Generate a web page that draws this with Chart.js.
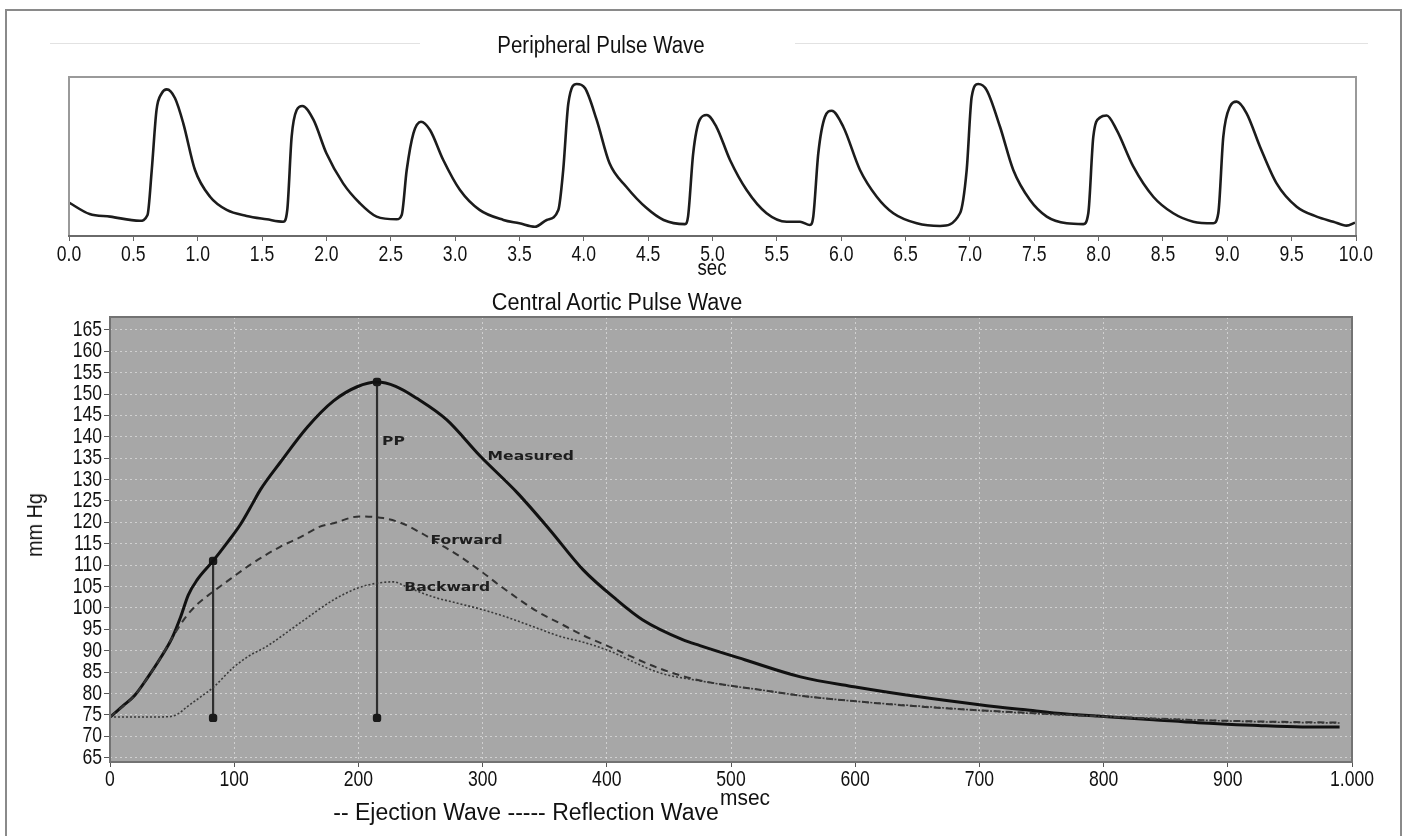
<!DOCTYPE html>
<html><head><meta charset="utf-8">
<script src="https://cdn.jsdelivr.net/npm/chart.js@4.4.1/dist/chart.umd.min.js"></script>
<style>
html,body{margin:0;padding:0;background:#fff;width:1408px;height:836px;overflow:hidden;}
#wrap{position:relative;width:1408px;height:836px;font-family:"Liberation Sans Narrow","Liberation Sans",Arial,sans-serif;color:#111;}
.frame{position:absolute;left:5px;top:9px;width:1397px;height:900px;border:2px solid #8a8a8a;box-sizing:border-box;}
.txt{position:absolute;white-space:nowrap;line-height:1;}
canvas{position:absolute;left:0;}
.deco{position:absolute;height:1px;background:#e2e2e2;}
</style></head>
<body><div id="wrap">
<div class="frame"></div>
<div class="deco" style="left:50px;top:43px;width:370px"></div>
<div class="deco" style="left:795px;top:43px;width:573px"></div>
<canvas id="top" width="1408" height="290" style="top:0"></canvas>
<canvas id="bot" width="1408" height="556" style="top:280px"></canvas>
<div class="txt" style="left:601px;top:45px;font-size:23px;transform:translate(-50%,-50%) scaleX(0.89)">Peripheral Pulse Wave</div>
<div class="txt" style="left:712px;top:268px;font-size:22px;transform:translate(-50%,-50%) scaleX(0.85)">sec</div>
<div class="txt" style="left:617px;top:302px;font-size:23px;transform:translate(-50%,-50%) scaleX(0.94)">Central Aortic Pulse Wave</div>
<div class="txt" style="left:35px;top:525px;font-size:22px;transform:translate(-50%,-50%) rotate(-90deg) scaleX(0.9)">mm Hg</div>
<div class="txt" style="left:745px;top:798px;font-size:22px;transform:translate(-50%,-50%) scaleX(0.95)">msec</div>
<div class="txt" style="left:526px;top:812px;font-size:23px;transform:translate(-50%,-50%)">-- Ejection Wave ----- Reflection Wave</div>
</div>
<script>
// ---------- Peripheral pulse wave (top) ----------
const periTime = [0.00,0.16,0.32,0.55,0.61,0.643,0.68,0.72,0.76,0.824,0.888,0.979,1.096,1.225,1.38,1.536,1.665,1.696,1.73,1.769,1.813,1.9,2.0,2.13,2.26,2.39,2.546,2.585,2.624,2.676,2.735,2.805,2.908,3.038,3.19,3.375,3.5,3.62,3.712,3.802,3.84,3.88,3.945,4.01,4.1,4.2,4.33,4.49,4.62,4.786,4.81,4.85,4.9,4.955,5.03,5.136,5.265,5.42,5.576,5.68,5.757,5.783,5.822,5.874,5.926,6.016,6.146,6.276,6.405,6.587,6.768,6.923,6.975,7.014,7.065,7.13,7.234,7.337,7.467,7.597,7.752,7.881,7.92,7.959,8.011,8.063,8.14,8.27,8.425,8.58,8.736,8.891,8.93,8.969,9.02,9.072,9.15,9.254,9.383,9.539,9.694,9.824,9.927,9.992];
const periValue = [21,13.8,12.2,9.6,13.2,41.5,79.2,89.7,92.2,86.6,70.9,41.5,24.7,16.4,12.6,10.5,9,16.4,62.5,79.2,81.8,73,52,33.1,20.6,12.2,10.5,13.2,41.5,64.6,71.9,66.7,47.8,28.9,16.4,10.1,8,5.8,10.1,16.4,41.5,83.5,95.6,92.9,73,45.7,31,17.4,10.1,7.5,12.2,52,73,76.1,68.7,47.8,28.9,14.3,9,9,6.9,12.2,52,75,78.8,68.7,41.5,24.7,14.3,8,6.3,14.3,41.5,87.6,95.6,91.8,68.7,41.5,22.6,12.2,8,7.5,14.3,62.5,74.5,75.8,66.7,43.6,24.7,14.3,9,8,14.3,62.5,81.3,84.5,77.2,56.2,33.1,18.4,12.2,9,6.5,8.4];
const topTickValues = [0,0.5,1,1.5,2,2.5,3,3.5,4,4.5,5,5.5,6,6.5,7,7.5,8,8.5,9,9.5,10];
const topTickLabels = ['0.0','0.5','1.0','1.5','2.0','2.5','3.0','3.5','4.0','4.5','5.0','5.5','6.0','6.5','7.0','7.5','8.0','8.5','9.0','9.5','10.0'];

// ---------- Central aortic pulse wave (bottom) ----------
const measuredMs = [0,10,20,30,40,50,57,63,70,83,95,105,115,121,137,159,180,199,215,230,247,271,298,328,354,381,408,429,461,475,511,556,599,650,700,737,770,803,840,876,920,960,990];
const measuredMmHg = [74.5,77,79.6,83.6,88,93,98,103,106.5,111,115.5,119.5,124.5,127.6,134,142.3,148.4,151.7,152.8,151.8,149,144,135.5,126.9,118.3,108.9,101.9,97.2,92.6,91.2,87.9,83.9,81.6,79.3,77.4,76.2,75.2,74.6,73.9,73.2,72.6,72.2,72.2];
const forwardMs = [0,20,30,40,50,60,70,83,97,115,137,153,169,180,201,220,235,250,265,282,300,314,344,363,381,400,443,470,500,523,556,604,650,693,752,803,876,940,990];
const forwardMmHg = [74.5,79.6,83.6,88,93,97.5,100.8,103.8,106.8,110.5,114.3,116.5,119,119.8,121.4,121,119.8,117.6,115,112,108.3,105.2,99.2,96.3,93.6,91.2,85.8,83.4,81.8,80.9,79.5,78.1,77,76.2,75.3,74.6,73.8,73.4,73.2];
const backwardMs = [0,30,48,55,62,72,83,99,112,126,153,180,200,215,228,240,260,280,300,320,341,363,381,400,443,470,500,523,556,604,650,693,752,803,876,940,990];
const backwardMmHg = [74.5,74.5,74.6,75.3,76.9,79,81.4,86,88.8,91,96.5,101.9,104.7,105.8,106.1,104.8,102.6,101.1,99.6,97.8,95.6,93.3,92,90.2,84.8,83.2,81.8,80.9,79.5,78.1,77.1,76.2,75.2,74.6,73.8,73.3,73.1];
const markerMs = [83, 215];
const markerLow = [74.3, 74.3];
const markerHigh = [111, 152.8];
const noteLabels = ['PP','Measured','Forward','Backward'];
const noteMs = [219, 304, 258, 237];
const noteMmHg = [138.8, 135.3, 115.7, 104.7];
const yTickValues = [65,70,75,80,85,90,95,100,105,110,115,120,125,130,135,140,145,150,155,160,165];
const xTickValues = [0,100,200,300,400,500,600,700,800,900,1000];
const xTickLabels = ['0','100','200','300','400','500','600','700','800','900','1.000'];

const FONT = '"Liberation Sans Narrow","Liberation Sans",Arial,sans-serif';
const zip = (xs, ys) => xs.map((x, i) => ({x, y: ys[i]}));

// condensed look for axis tick text (the narrow face is not installed)
const condensed = {
  id: 'condensed',
  beforeDraw(chart) {
    const c = chart.ctx;
    if (!c._origFill) c._origFill = c.fillText;
    c.fillText = function (t, x, y, w) {
      this.save(); this.translate(x, y); this.scale(0.8, 1);
      this._origFill(t, 0, 0); this.restore();
    };
  },
  beforeDatasetsDraw(chart) {
    const c = chart.ctx;
    if (c._origFill) c.fillText = c._origFill;
  }
};

// ---- top chart ----
const topFrame = {
  id: 'topFrame',
  afterDraw(chart) {
    const a = chart.chartArea, c = chart.ctx;
    c.save();
    c.strokeStyle = '#9a9a9a'; c.lineWidth = 2;
    c.strokeRect(a.left, a.top, a.right - a.left, a.bottom - a.top);
    c.strokeStyle = '#6a6a6a';
    c.beginPath(); c.moveTo(a.left - 1, a.bottom); c.lineTo(a.right + 1, a.bottom); c.stroke();
    c.restore();
  }
};
new Chart(document.getElementById('top'), {
  type: 'line',
  data: { datasets: [{
    data: zip(periTime, periValue),
    borderColor: '#1c1c1c', borderWidth: 2.6, pointRadius: 0,
    cubicInterpolationMode: 'monotone', fill: false
  }]},
  options: {
    responsive: false, animation: false, events: [],
    layout: { padding: { left: 69, right: 52, top: 77, bottom: 24 } },
    plugins: { legend: { display: false }, tooltip: { enabled: false } },
    scales: {
      x: {
        type: 'linear', min: 0, max: 10,
        afterBuildTicks: ax => { ax.ticks = topTickValues.map(v => ({value: v})); },
        afterFit: s => { s.height = 30; },
        ticks: { autoSkip: false, maxRotation: 0, padding: 1, color: '#111',
          font: { family: FONT, size: 22 },
          callback: (v, i) => topTickLabels[i] },
        grid: { drawOnChartArea: false, drawTicks: true, tickLength: 5, tickColor: '#666' },
        border: { display: false }
      },
      y: { display: false, min: 0, max: 100 }
    }
  },
  plugins: [condensed, topFrame]
});

// ---- bottom chart ----
const plotBg = {
  id: 'plotBg',
  beforeDraw(chart) {
    const a = chart.chartArea, c = chart.ctx;
    c.save(); c.fillStyle = '#a7a7a7';
    c.fillRect(a.left, a.top, a.right - a.left, a.bottom - a.top); c.restore();
  },
  afterDraw(chart) {
    const a = chart.chartArea, c = chart.ctx;
    c.save(); c.strokeStyle = '#737373'; c.lineWidth = 2;
    c.strokeRect(a.left, a.top, a.right - a.left, a.bottom - a.top); c.restore();
  }
};
const notes = {
  id: 'notes',
  afterDatasetsDraw(chart) {
    const c = chart.ctx, x = chart.scales.x, y = chart.scales.y;
    c.save();
    c.fillStyle = '#1e1e1e';
    c.font = 'bold 12px "DejaVu Sans", sans-serif';
    c.textBaseline = 'middle'; c.textAlign = 'left';
    noteLabels.forEach((t, i) => {
      c.save();
      c.translate(x.getPixelForValue(noteMs[i]), y.getPixelForValue(noteMmHg[i]));
      c.scale(1.3, 1);
      c.fillText(t, 0, 0);
      c.restore();
    });
    c.restore();
  }
};
const markerSets = markerMs.map((m, i) => ({
  data: [{x: m, y: markerLow[i]}, {x: m, y: markerHigh[i]}],
  borderColor: '#2e2e2e', borderWidth: 2.2, showLine: true,
  pointRadius: 3.6, pointStyle: 'rectRounded', pointBackgroundColor: '#1a1a1a', pointBorderColor: '#1a1a1a',
  fill: false, order: 0
}));
new Chart(document.getElementById('bot'), {
  type: 'line',
  data: { datasets: [
    { data: zip(backwardMs, backwardMmHg), borderColor: '#3a3a3a', borderWidth: 1.6, borderDash: [2, 2],
      pointRadius: 0, cubicInterpolationMode: 'monotone', fill: false },
    { data: zip(forwardMs, forwardMmHg), borderColor: '#333', borderWidth: 2, borderDash: [7, 5],
      pointRadius: 0, cubicInterpolationMode: 'monotone', fill: false },
    { data: zip(measuredMs, measuredMmHg), borderColor: '#111', borderWidth: 3,
      pointRadius: 0, cubicInterpolationMode: 'monotone', fill: false },
    ...markerSets
  ]},
  options: {
    responsive: false, animation: false, events: [],
    layout: { padding: { left: 50, right: 56, top: 37, bottom: 44 } },
    plugins: { legend: { display: false }, tooltip: { enabled: false } },
    scales: {
      x: {
        type: 'linear', min: 0, max: 1000,
        afterBuildTicks: ax => { ax.ticks = xTickValues.map(v => ({value: v})); },
        afterFit: s => { s.height = 30; },
        ticks: { autoSkip: false, maxRotation: 0, padding: 0, color: '#111',
          font: { family: FONT, size: 22 }, callback: (v, i) => xTickLabels[i] },
        grid: { color: 'rgba(235,235,235,0.6)', lineWidth: 1, tickLength: 5, tickColor: '#555', tickBorderDash: [] },
        border: { display: false, dash: [2, 3] }
      },
      y: {
        type: 'linear', min: 64, max: 168,
        afterBuildTicks: ax => { ax.ticks = yTickValues.map(v => ({value: v})); },
        afterFit: s => { s.width = 60; },
        ticks: { autoSkip: false, padding: 2, color: '#111',
          font: { family: FONT, size: 22 }, callback: v => String(v) },
        grid: { color: 'rgba(235,235,235,0.6)', lineWidth: 1, tickLength: 6, tickColor: '#555', tickBorderDash: [] },
        border: { display: false, dash: [2, 3] }
      }
    }
  },
  plugins: [condensed, plotBg, notes]
});
</script>
</body></html>
